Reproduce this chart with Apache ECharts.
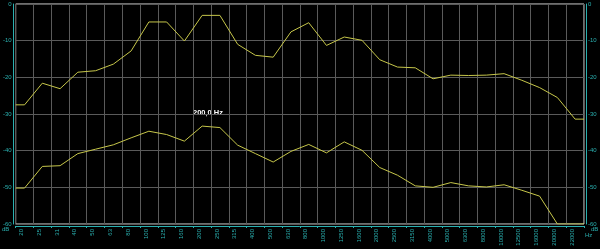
<!DOCTYPE html>
<html><head><meta charset="utf-8">
<script src="https://cdn.jsdelivr.net/npm/echarts@6/dist/echarts.min.js"></script>
<style>html,body{margin:0;padding:0;background:#000;}#c{width:600px;height:249px;}</style>
</head><body><div id="c"></div>
<script>
const freqLabels = ['20','25','31','40','50','63','80','100','125','160','200','250','315','400','500','630','800','1000','1250','1600','2000','2500','3150','4000','5000','6300','8000','10000','12500','16000','20000','22000'];
const upperLevel = [-27.5,-21.6,-23.1,-18.6,-18.2,-16.4,-12.8,-4.9,-4.9,-10.1,-3.1,-3.1,-11.0,-14.0,-14.5,-7.6,-5.1,-11.3,-9.0,-9.9,-15.2,-17.2,-17.4,-20.4,-19.4,-19.5,-19.4,-19.0,-20.8,-22.8,-25.5,-31.4];
const lowerLevel = [-50.2,-44.3,-44.1,-40.8,-39.6,-38.4,-36.5,-34.7,-35.6,-37.4,-33.3,-33.7,-38.5,-40.8,-43.1,-40.2,-38.3,-40.6,-37.6,-39.9,-44.6,-46.7,-49.6,-50.0,-48.7,-49.6,-49.9,-49.3,-50.8,-52.4,-60,-60];
const yMin = -60, yMax = 0, yStep = 10;
const markerText = '200,0 Hz';

const TEAL = '#2ab0b0', GRID = '#5a5a5a', LINE = '#c6c64a', FONT = 'Liberation Sans';
const N = freqLabels.length;
function toPts(arr){
  const pts = [[0, arr[0]]];
  arr.forEach((v,i)=>pts.push([i+0.5, v]));
  pts.push([N, arr[N-1]]);
  return pts;
}
const chart = echarts.init(document.getElementById('c'), null, {renderer:'canvas'});
const yAxisBase = {
  type:'value', min:yMin, max:yMax, interval:yStep, offset:2,
  axisLine:{show:true, onZero:false, lineStyle:{color:TEAL, width:1}},
  axisTick:{show:false},
  axisLabel:{color:TEAL, fontSize:6, fontFamily:FONT, margin:2}
};
chart.setOption({
  backgroundColor:'#000',
  animation:false,
  grid:{left:15, right:16, top:4, bottom:25, show:true, borderColor:'#dcdcdc', borderWidth:1, backgroundColor:'#000', z:0},
  xAxis:[{
    type:'category', data:freqLabels, boundaryGap:true, position:'bottom', offset:2,
    axisLine:{show:true, onZero:false, lineStyle:{color:TEAL, width:1}},
    axisTick:{show:true, length:2, interval:0, lineStyle:{color:TEAL}},
    axisLabel:{interval:0, rotate:90, fontSize:6, fontFamily:FONT, color:TEAL, margin:3, verticalAlign:'bottom'},
    splitLine:{show:true, interval:0, lineStyle:{color:GRID, width:1}}
  },{
    type:'value', min:0, max:N, position:'top',
    axisLine:{show:false}, axisTick:{show:false}, axisLabel:{show:false}, splitLine:{show:false}
  }],
  yAxis:[
    Object.assign({}, yAxisBase, {position:'left', splitLine:{show:true, lineStyle:{color:GRID, width:1}}}),
    Object.assign({}, yAxisBase, {position:'right', splitLine:{show:false}})
  ],
  graphic:[
    {type:'text', left:193, top:109, style:{text:markerText, fill:'#ffffff', font:'bold 7.5px "Liberation Sans"'}},
    {type:'text', left:2, top:226, style:{text:'dB', fill:TEAL, font:'6px "Liberation Sans"'}},
    {type:'text', left:591, top:226, style:{text:'dB', fill:TEAL, font:'6px "Liberation Sans"'}},
    {type:'text', left:585, top:232, style:{text:'Hz', fill:TEAL, font:'6px "Liberation Sans"'}}
  ],
  series:[
    {type:'line', xAxisIndex:1, yAxisIndex:0, data:toPts(upperLevel), symbol:'none', lineStyle:{color:LINE, width:1}, itemStyle:{color:LINE}},
    {type:'line', xAxisIndex:1, yAxisIndex:0, data:toPts(lowerLevel), symbol:'none', lineStyle:{color:LINE, width:1}, itemStyle:{color:LINE}}
  ]
});
</script></body></html>
